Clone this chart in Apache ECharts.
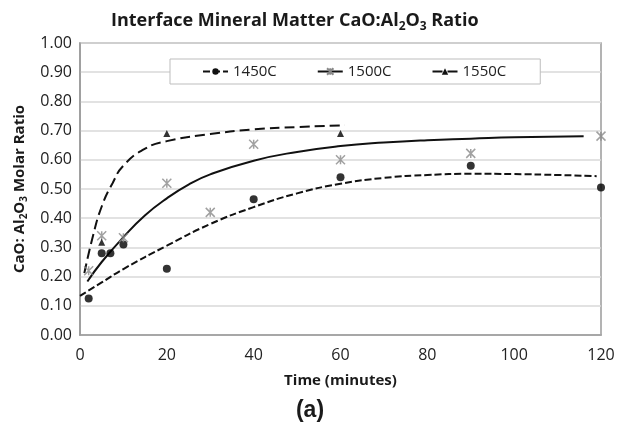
<!DOCTYPE html>
<html>
<head>
<meta charset="utf-8">
<script src="https://cdn.jsdelivr.net/npm/echarts@6/dist/echarts.min.js"></script>
<style>
  html, body { margin: 0; padding: 0; background: #fff; }
  #chart { width: 620px; height: 426px; }
</style>
</head>
<body>
<div id="chart"></div>
<script>
// measured points
var time1450 = [2, 5, 7, 10, 20, 40, 60, 90, 120];
var ratio1450 = [0.125, 0.28, 0.28, 0.31, 0.227, 0.465, 0.54, 0.58, 0.505];
var time1500 = [2, 5, 10, 20, 30, 40, 60, 90, 120];
var ratio1500 = [0.22, 0.34, 0.333, 0.52, 0.42, 0.653, 0.6, 0.622, 0.681];
var time1550 = [5, 20, 60];
var ratio1550 = [0.318, 0.69, 0.69];

// trend curves
var trendX1450 = [0, 5, 10, 20, 30, 40, 50, 60, 70, 80, 90, 100, 110, 119];
var trendY1450 = [0.134, 0.18, 0.226, 0.306, 0.38, 0.438, 0.485, 0.518, 0.538, 0.548, 0.552, 0.551, 0.548, 0.544];
var trendX1500 = [1.7, 5, 10, 15, 20, 25, 30, 40, 50, 60, 70, 80, 90, 100, 116];
var trendY1500 = [0.183, 0.25, 0.335, 0.41, 0.468, 0.515, 0.55, 0.597, 0.627, 0.647, 0.659, 0.667, 0.672, 0.677, 0.681];
var trendX1550 = [1, 3, 5, 7.5, 10, 15, 20, 30, 40, 50, 61];
var trendY1550 = [0.212, 0.34, 0.44, 0.52, 0.58, 0.638, 0.664, 0.688, 0.704, 0.712, 0.718];

var legendNames = ['1450C', '1500C', '1550C'];
var xTicks = { min: 0, max: 120, step: 20 };
var yTicks = { min: 0, max: 1, step: 0.1 };

function pairs(xs, ys) {
  var out = [];
  for (var i = 0; i < xs.length; i++) out.push([xs[i], ys[i]]);
  return out;
}

var starPath = 'path://M0,0L10,10M10,0L0,10M5,0L5,10';
var font = '"Open Sans", "DejaVu Sans", sans-serif';

var chart = echarts.init(document.getElementById('chart'));
var option = {
  animation: false,
  title: [
    {
      text: 'Interface Mineral Matter CaO:Al{sub|2}O{sub|3} Ratio',
      left: 106,
      top: 4,
      textStyle: {
        fontFamily: font,
        fontSize: 18,
        fontWeight: 'bold',
        color: '#1a1a1a',
        lineHeight: 24,
        rich: {
          sub: { fontFamily: font, fontSize: 12, fontWeight: 'bold', color: '#1a1a1a', verticalAlign: 'bottom', lineHeight: 16 }
        }
      }
    },
    {
      text: '(a)',
      left: 'center',
      top: 394,
      textStyle: { fontFamily: 'Liberation Sans, Arial, sans-serif', fontSize: 23, fontWeight: 'bold', color: '#1a1a1a' }
    }
  ],
  legend: {
    data: legendNames,
    left: 170,
    top: 59,
    padding: [5, 34, 5, 32],
    itemGap: 40,
    itemWidth: 25,
    itemHeight: 8,
    backgroundColor: '#fff',
    borderColor: '#bdbdbd',
    borderWidth: 1,
    textStyle: { fontFamily: font, fontSize: 15, color: '#222' }
  },
  grid: {
    left: 80,
    right: 19,
    top: 43,
    bottom: 91,
    show: true,
    borderColor: '#9a9a9a',
    borderWidth: 1.5
  },
  xAxis: {
    type: 'value',
    min: xTicks.min,
    max: xTicks.max,
    interval: xTicks.step,
    name: 'Time (minutes)',
    nameLocation: 'middle',
    nameGap: 38,
    nameTextStyle: { fontFamily: font, fontSize: 15, fontWeight: 'bold', color: '#1a1a1a' },
    axisLine: { show: true, lineStyle: { color: '#9a9a9a', width: 1.5 } },
    axisTick: { show: false },
    splitLine: { show: false },
    axisLabel: { fontFamily: font, fontSize: 16, color: '#222', margin: 12 }
  },
  yAxis: {
    type: 'value',
    min: yTicks.min,
    max: yTicks.max,
    interval: yTicks.step,
    name: 'CaO: Al{sub|2}O{sub|3} Molar Ratio',
    nameLocation: 'middle',
    nameRotate: 90,
    nameGap: 50,
    nameTextStyle: {
      fontFamily: font, fontSize: 15, fontWeight: 'bold', color: '#1a1a1a', lineHeight: 20,
      rich: {
        sub: { fontFamily: font, fontSize: 10, fontWeight: 'bold', color: '#1a1a1a', verticalAlign: 'bottom', lineHeight: 14 }
      }
    },
    axisLine: { show: true, lineStyle: { color: '#9a9a9a', width: 1.5 } },
    axisTick: { show: false },
    splitLine: { lineStyle: { color: '#d9d9d9', width: 1.5 } },
    axisLabel: {
      fontFamily: font, fontSize: 16, color: '#222', margin: 8,
      formatter: function (v) { return v.toFixed(2); }
    }
  },
  series: [
    {
      name: '1450C', type: 'line', smooth: 0.5, data: pairs(trendX1450, trendY1450),
      symbol: 'circle', symbolSize: 7, showSymbol: false,
      lineStyle: { color: '#111', width: 2, type: [7, 3] },
      itemStyle: { color: '#111' }, z: 3
    },
    {
      name: '1500C', type: 'line', smooth: 0.5, data: pairs(trendX1500, trendY1500),
      symbol: starPath, symbolSize: 9, showSymbol: false,
      lineStyle: { color: '#111', width: 2 },
      itemStyle: { color: 'transparent', borderColor: '#888', borderWidth: 1.5 }, z: 3
    },
    {
      name: '1550C', type: 'line', smooth: 0.5, data: pairs(trendX1550, trendY1550),
      symbol: 'triangle', symbolSize: 7, showSymbol: false,
      lineStyle: { color: '#111', width: 2, type: [10, 5] },
      itemStyle: { color: '#111' }, z: 3
    },
    {
      name: '1450C', type: 'scatter', data: pairs(time1450, ratio1450),
      symbol: 'circle', symbolSize: 8, itemStyle: { color: '#000' }, z: 4
    },
    {
      name: '1500C', type: 'scatter', data: pairs(time1500, ratio1500),
      symbol: starPath, symbolSize: 9,
      itemStyle: { color: 'transparent', borderColor: '#8a8a8a', borderWidth: 1.5 }, z: 4
    },
    {
      name: '1550C', type: 'scatter', data: pairs(time1550, ratio1550),
      symbol: 'triangle', symbolSize: 7, itemStyle: { color: '#000' }, z: 4
    }
  ]
};
chart.setOption(option);
</script>
</body>
</html>
